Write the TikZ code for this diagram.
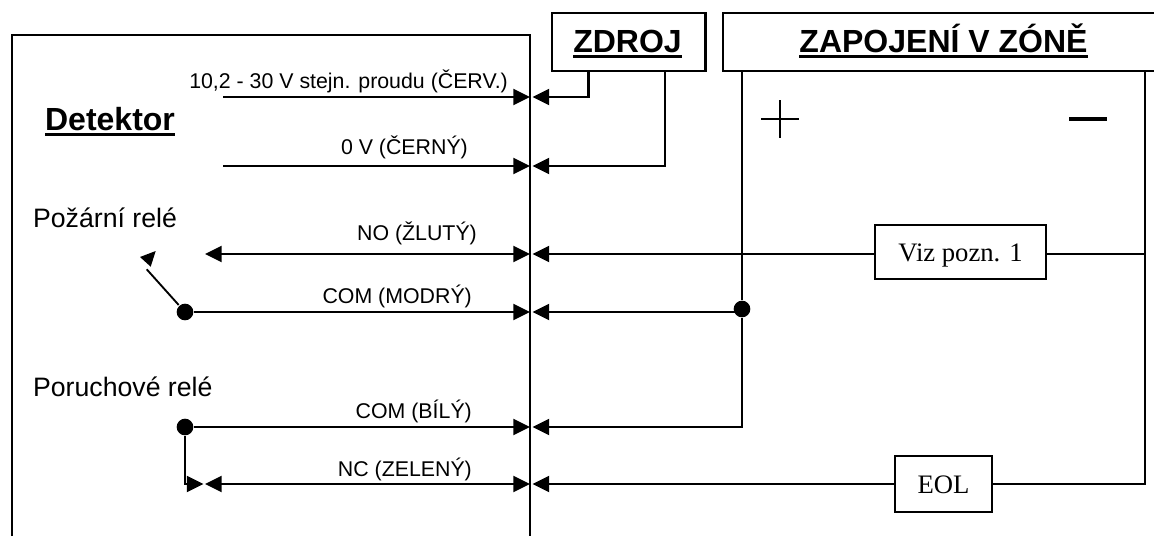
\documentclass[tikz,border=0pt]{standalone}
\usepackage{fontspec}
\setmainfont{Liberation Sans}
\newfontfamily\serifpart{Liberation Serif}
\newcommand{\ultext}[1]{\setbox0=\hbox{#1}\rlap{\vrule width\wd0 height-2.4pt depth 4.6pt}\box0}
\usetikzlibrary{arrows.meta}
\usetikzlibrary{calc}

\begin{document}
\begin{tikzpicture}[x=0.75pt,y=-0.75pt,line width=1.7pt,
		wirelabel/.style={anchor=base east,inner sep=0pt,font=\fontsize{16}{18}\selectfont},
		sidelabel/.style={anchor=base west,inner sep=0pt,font=\fontsize{20}{22}\selectfont},
		headlabel/.style={anchor=base,inner sep=0pt,font=\fontsize{24}{28}\selectfont\bfseries},
		headbox/.style={draw,anchor=north west,inner sep=0pt},
		partbox/.style={draw,fill=white,inner sep=0pt,text height=14pt,text depth=0pt,font=\fontsize{20}{22}\selectfont\serifpart},
		joint/.style={circle,fill=black,inner sep=0pt,minimum size=12.5pt},
		wire/.style={>={Triangle[length=12.5pt,width=12pt]}}]
	\useasboundingbox (0,0) rectangle (1154,536);
	\draw (12,536) -- (12,35) -- (530,35) -- (530,536);
	\node[headbox,minimum width=115pt,minimum height=43.5pt] (zdroj) at (551,12) {};
	\node[headbox,minimum width=325.5pt,minimum height=43.5pt] (zona) at (722,12) {};
	\node[headlabel] (zdrojtext) at (627.5,52) {\ultext{ZDROJ}};
	\node[headlabel] (zonatext) at (943.5,52) {\ultext{ZAPOJENÍ V ZÓNĚ}};
	\node[headlabel,anchor=base west] (detektor) at (44,130) {\ultext{Detektor}};
	\node[sidelabel] (pozarni) at (32,227) {Požární relé};
	\node[sidelabel] (poruchove) at (32,396) {Poruchové relé};

	\foreach \name/\ypos in {cerv/97, cerny/166, zluty/254, modry/312, bily/427, zeleny/484} {
		\coordinate (in\name) at (532.5,\ypos);
		\coordinate (out\name) at (530,\ypos);
	}
	\foreach \name/\xpos/\ypos/\letter in {cerv/509/88/{10,2 - 30 V stejn. proudu (ČERV.)}, cerny/469/154/{0 V (ČERNÝ)}, zluty/478/240/{NO (ŽLUTÝ)}, modry/473/303/{COM (MODRÝ)}, bily/473/418/{COM (BÍLÝ)}, zeleny/473/476/{NC (ZELENÝ)}} {
		\node[wirelabel] (label\name) at (\xpos,\ypos) {\letter};
	}

	\coordinate (startcerv) at (223,97);
	\coordinate (startcerny) at (223,166);
	\coordinate (startzluty) at (205,254);
	\coordinate (startzeleny) at (205,484);
	\coordinate (zelenystub) at (203.5,484);
	\node[joint] (jointmodry) at (185,312) {};
	\node[joint] (jointbily) at (185,427) {};
	\node[joint] (jointzona) at (742,309) {};
	\node[partbox,minimum width=128pt,minimum height=40.5pt] (viz) at (960.5,252) {Viz pozn. 1\hspace{5pt}};
	\node[partbox,minimum width=72.5pt,minimum height=42.5pt] (eol) at (943.5,484) {EOL\hspace{3pt}};

	\draw[wire,->] (startcerv) -- (outcerv);
	\draw[wire,->] (startcerny) -- (outcerny);
	\draw[wire,<->] (startzluty) -- (outzluty);
	\draw[wire,->] (jointmodry) -- (outmodry);
	\draw[wire,->] (jointbily) -- (outbily);
	\draw[wire,<->] (startzeleny) -- (outzeleny);
	\draw[wire,->] (jointbily) |- (zelenystub);

	\coordinate (zdrojshort) at (588.5,70);
	\coordinate (zdrojlong) at (665,70);
	\coordinate (zonaplus) at (742,70);
	\coordinate (zonaminus) at (1145,70);
	\draw[wire,->] (zdrojshort) |- (incerv);
	\draw[wire,->] (zdrojlong) |- (incerny);
	\draw[wire,->] (viz.west |- inzluty) -- (inzluty);
	\draw[wire,->] (jointzona |- inmodry) -- (inmodry);
	\draw[wire,->] (eol) -- (inzeleny);
	\draw (zonaplus) -- (jointzona);
	\draw[wire,->] (jointzona) |- (inbily);
	\draw (zonaminus) |- (viz.east |- inzluty);
	\draw (zonaminus) |- (eol);

	\coordinate (plusleft) at (761,119);
	\coordinate (plusright) at (799,119);
	\coordinate (plustop) at (780,100);
	\coordinate (plusbottom) at (780,138);
	\coordinate (minusleft) at (1069,119);
	\coordinate (minusright) at (1107,119);
	\draw[line width=1.9pt] (plusleft) -- (plusright);
	\draw[line width=1.9pt] (plustop) -- (plusbottom);
	\draw[line width=2.6pt] (minusleft) -- (minusright);

	\coordinate (switchend) at (146.7,269.3);
	\draw[line width=1.4pt] (jointmodry) -- (switchend);
	\fill (155.7,251) -- (140,257) -- (150.7,266.7) -- cycle;
\end{tikzpicture}
\end{document}
